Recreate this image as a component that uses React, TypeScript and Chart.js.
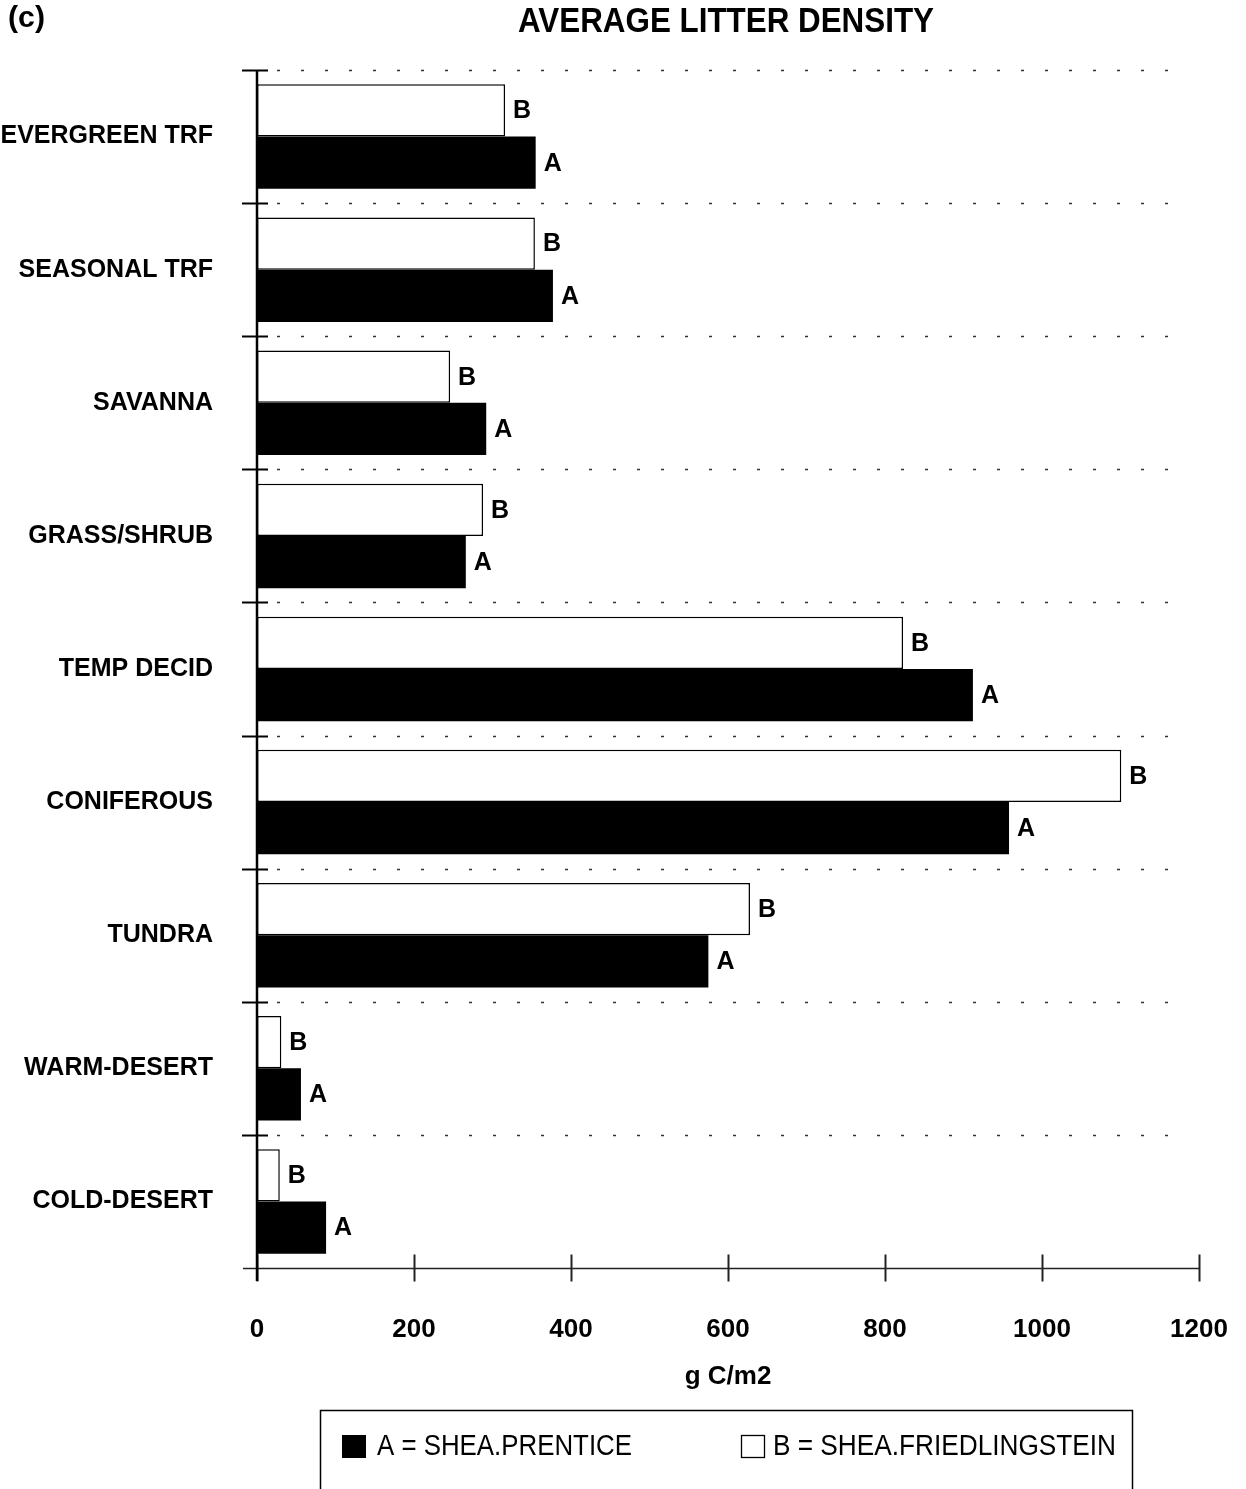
import React, { useEffect, useRef } from "react";
import { Chart, registerables } from "chart.js";

Chart.register(...registerables);

// Biome categories, top to bottom
const biomes = [
  "EVERGREEN TRF",
  "SEASONAL TRF",
  "SAVANNA",
  "GRASS/SHRUB",
  "TEMP DECID",
  "CONIFEROUS",
  "TUNDRA",
  "WARM-DESERT",
  "COLD-DESERT",
];

// Average litter density, g C/m2
const sheaPrentice = [355, 377, 292, 266, 912, 958, 575, 56, 88];
const sheaFriedlingstein = [316, 354, 246, 288, 823, 1101, 628, 31, 29];

const xTicks = [0, 200, 400, 600, 800, 1000, 1200];
const seriesTags = ["B", "A"];

const W = 1246;
const H = 1489;
const FONT = "'Liberation Sans', Arial, sans-serif";

// Draw text squeezed horizontally to a given width (condensed look)
function fitText(
  ctx: CanvasRenderingContext2D,
  text: string,
  x: number,
  y: number,
  width: number,
  font: string,
  align: "left" | "center"
) {
  ctx.save();
  ctx.font = font;
  ctx.textBaseline = "middle";
  ctx.textAlign = "left";
  const w = ctx.measureText(text).width;
  const s = width / w;
  const left = align === "center" ? x - width / 2 : x;
  ctx.translate(left, y);
  ctx.scale(s, 1);
  ctx.fillText(text, 0, 0);
  ctx.restore();
}

const decorPlugin = {
  id: "decor",
  beforeDatasetsDraw(chart: any) {
    const ctx = chart.ctx as CanvasRenderingContext2D;
    const yS = chart.scales.y;
    const xS = chart.scales.x;
    const area = chart.chartArea;
    const band = yS.getPixelForValue(1) - yS.getPixelForValue(0);
    ctx.save();
    // category separators: solid tick at the axis, sparse dots across
    for (let i = 0; i < biomes.length; i++) {
      const yy = Math.round(yS.getPixelForValue(i) - band / 2) + 0.5;
      ctx.strokeStyle = "#000";
      ctx.lineWidth = 2;
      ctx.setLineDash([]);
      ctx.beginPath();
      ctx.moveTo(area.left - 15, yy);
      ctx.lineTo(area.left + 11, yy);
      ctx.stroke();
      ctx.strokeStyle = "#333";
      ctx.lineWidth = 1.5;
      ctx.setLineDash([3, 21]);
      ctx.beginPath();
      ctx.moveTo(area.left + 20, yy);
      ctx.lineTo(area.right - 10, yy);
      ctx.stroke();
    }
    ctx.setLineDash([]);
    // x axis line with crossing ticks
    const ay = Math.round(area.bottom) + 0.5;
    ctx.strokeStyle = "#222";
    ctx.lineWidth = 1.6;
    ctx.beginPath();
    ctx.moveTo(area.left - 14, ay);
    ctx.lineTo(xS.getPixelForValue(1200), ay);
    ctx.stroke();
    ctx.lineWidth = 2;
    for (const v of xTicks) {
      const px = Math.round(xS.getPixelForValue(v)) + 0.5;
      ctx.beginPath();
      ctx.moveTo(px, ay - 14);
      ctx.lineTo(px, ay + 13);
      ctx.stroke();
    }
    ctx.restore();
  },
  afterDatasetsDraw(chart: any) {
    const ctx = chart.ctx as CanvasRenderingContext2D;
    const area = chart.chartArea;
    ctx.save();
    // y axis line
    ctx.strokeStyle = "#000";
    ctx.lineWidth = 2.5;
    ctx.beginPath();
    ctx.moveTo(area.left, area.top);
    ctx.lineTo(area.left, area.bottom + 13);
    ctx.stroke();
    // series letters at bar ends
    ctx.fillStyle = "#000";
    ctx.font = `bold 25px ${FONT}`;
    ctx.textBaseline = "middle";
    ctx.textAlign = "left";
    chart.data.datasets.forEach((_ds: any, di: number) => {
      const meta = chart.getDatasetMeta(di);
      meta.data.forEach((el: any) => {
        ctx.fillText(seriesTags[di], el.x + 8, el.y + 1);
      });
    });
    ctx.restore();
  },
  afterDraw(chart: any) {
    const ctx = chart.ctx as CanvasRenderingContext2D;
    const xS = chart.scales.x;
    ctx.save();
    ctx.fillStyle = "#000";
    fitText(ctx, "(c)", 8, 19, 37, `bold 29px ${FONT}`, "left");
    fitText(ctx, "AVERAGE LITTER DENSITY", 726, 22, 416, `bold 35px ${FONT}`, "center");
    // x axis title
    ctx.font = `bold 26px ${FONT}`;
    ctx.textAlign = "center";
    ctx.textBaseline = "middle";
    ctx.fillText("g C/m2", (xS.left + xS.right) / 2, 1377);
    // legend box
    ctx.strokeStyle = "#000";
    ctx.lineWidth = 1.5;
    ctx.strokeRect(320.5, 1410.5, 812, 100);
    ctx.fillRect(342, 1435, 24, 23);
    ctx.lineWidth = 1.3;
    ctx.strokeRect(741.5, 1435.5, 23, 22);
    fitText(ctx, "A = SHEA.PRENTICE", 377, 1447, 255, `30px ${FONT}`, "left");
    fitText(ctx, "B = SHEA.FRIEDLINGSTEIN", 773, 1447, 343, `30px ${FONT}`, "left");
    ctx.restore();
  },
};

export default function App() {
  const ref = useRef<HTMLCanvasElement | null>(null);

  useEffect(() => {
    if (!ref.current) return;
    const chart = new Chart(ref.current, {
      type: "bar",
      data: {
        labels: biomes,
        datasets: [
          {
            label: "B = SHEA.FRIEDLINGSTEIN",
            data: sheaFriedlingstein,
            backgroundColor: "#ffffff",
            borderColor: "#000000",
            borderWidth: 1.5,
            borderSkipped: false,
            categoryPercentage: 0.785,
            barPercentage: 1,
          },
          {
            label: "A = SHEA.PRENTICE",
            data: sheaPrentice,
            backgroundColor: "#000000",
            borderWidth: 0,
            categoryPercentage: 0.785,
            barPercentage: 1,
          },
        ],
      },
      options: {
        indexAxis: "y",
        responsive: false,
        animation: false,
        devicePixelRatio: 1,
        layout: { padding: { top: 70, right: 47, left: 0, bottom: 0 } },
        plugins: {
          legend: { display: false },
          title: { display: false },
          tooltip: { enabled: false },
        },
        scales: {
          x: {
            min: 0,
            max: 1200,
            afterFit: (s: any) => {
              s.height = H - 1268;
              s.paddingLeft = 0;
              s.paddingRight = 0;
            },
            afterBuildTicks: (s: any) => {
              s.ticks = xTicks.map((v) => ({ value: v }));
            },
            grid: { display: false, drawTicks: false },
            border: { display: false },
            ticks: {
              color: "#000",
              font: { family: FONT, size: 26, weight: "bold" },
              padding: 46,
              maxRotation: 0,
              callback: (v: any) => String(v),
            },
          },
          y: {
            afterFit: (s: any) => {
              s.width = 257;
              s.paddingTop = 0;
              s.paddingBottom = 0;
            },
            grid: { display: false, drawTicks: false },
            border: { display: false },
            ticks: {
              color: "#000",
              font: { family: FONT, size: 25, weight: "bold" },
              padding: 44,
            },
          },
        },
      },
      plugins: [decorPlugin],
    });
    return () => chart.destroy();
  }, []);

  return (
    <div style={{ position: "absolute", left: 0, top: 0, width: W, height: H, background: "#fff" }}>
      <canvas ref={ref} width={W} height={H} style={{ width: W, height: H, display: "block" }} />
    </div>
  );
}
